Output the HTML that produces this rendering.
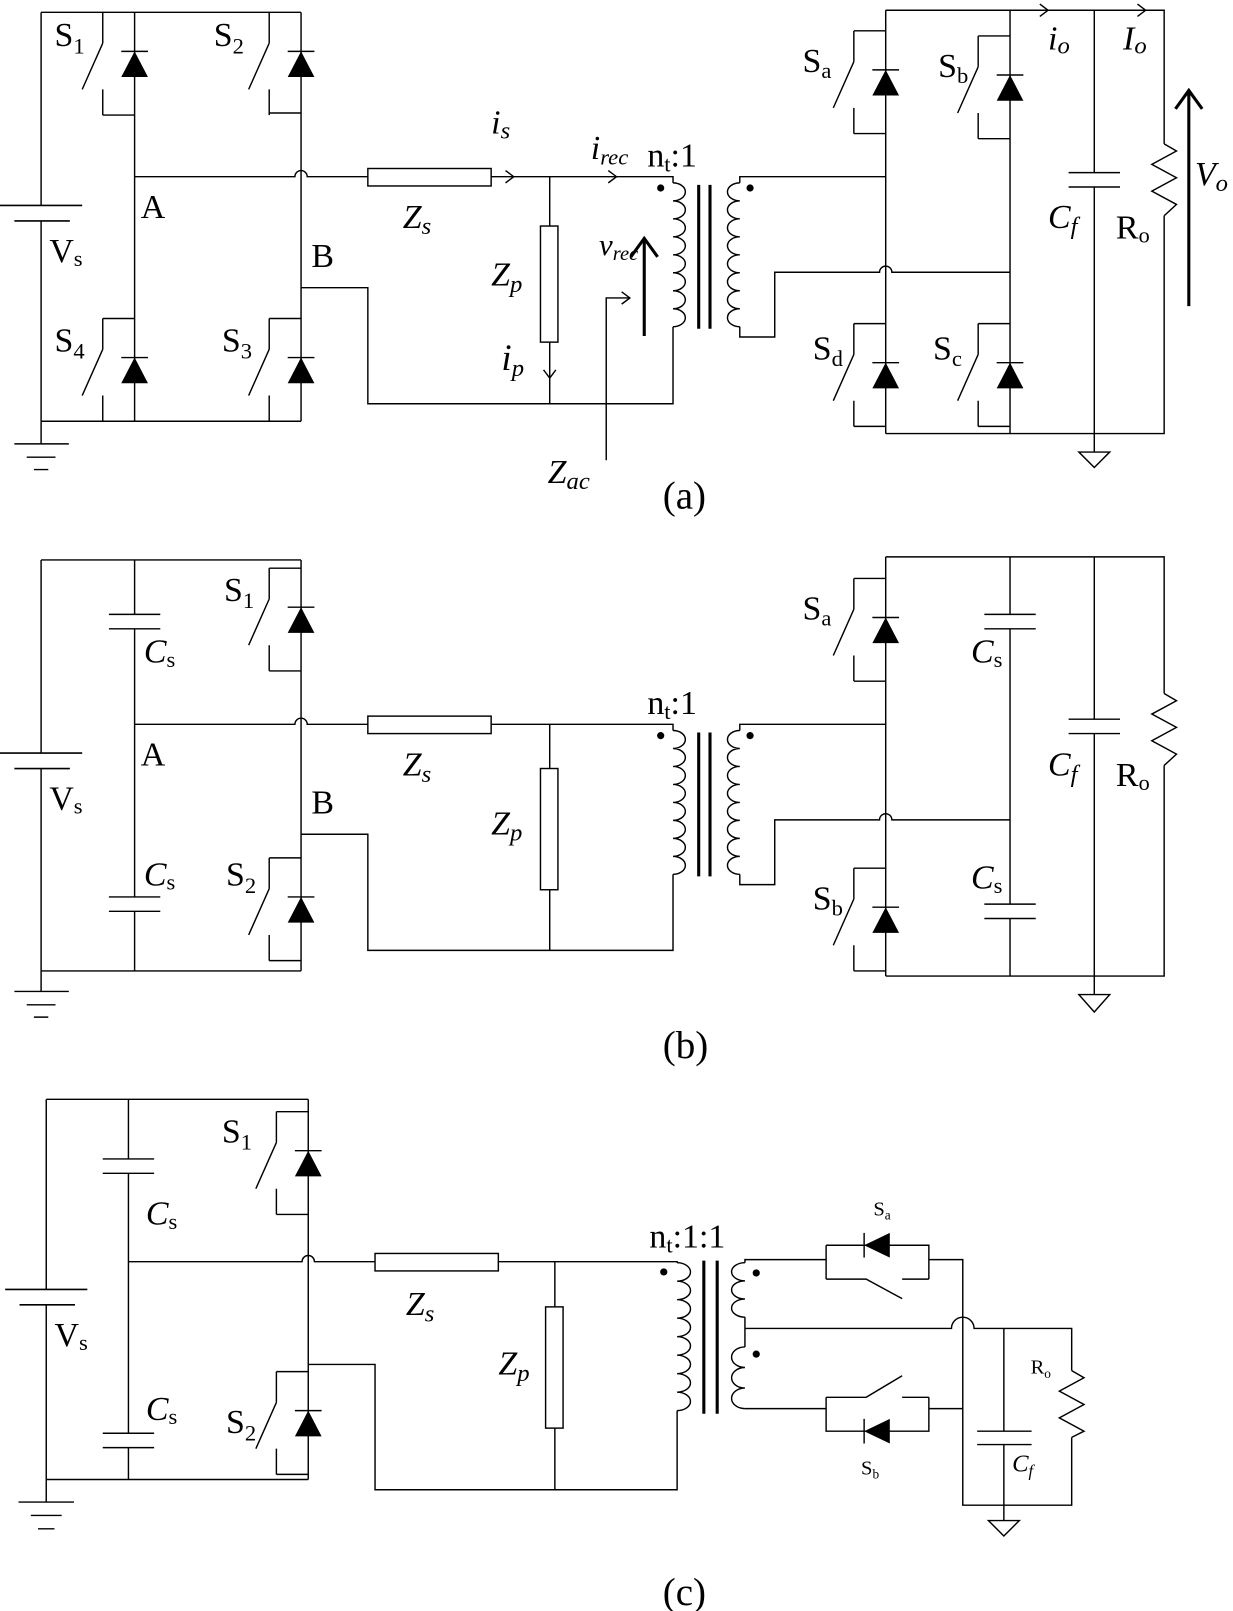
<!DOCTYPE html>
<html><head><meta charset="utf-8"><style>
html,body{margin:0;padding:0;background:#fff;}
svg{display:block;}
text{font-family:"Liberation Serif","Times New Roman",serif;fill:#000;}
.it{font-style:italic;}
</style></head><body>
<svg width="1233" height="1611" viewBox="0 0 1200 1568" preserveAspectRatio="none" xmlns="http://www.w3.org/2000/svg" font-family="Liberation Serif, serif">
<defs>
<g id="sw" fill="none" stroke="#000" stroke-width="1.4">
<path d="M-31 0 V30 M-31 30 L-51 75 M-31 75 V100"/>
<path d="M-13 38 H13"/>
<polygon points="0,38 -13,63 13,63" fill="#000" stroke="none"/>
</g>
<path id="hb" d="M-31 100 H0" fill="none" stroke="#000" stroke-width="1.4"/>
<path id="ht" d="M-31 0 H0" fill="none" stroke="#000" stroke-width="1.4"/>
</defs>
<g fill="none" stroke="#000" stroke-width="1.4">
<!-- ===== (a) ===== -->
<path d="M40 12 V200 M40 215 V410 M40 12 H293 M40 410 H293"/>
<path d="M0 200 H80 M14 215 H68" stroke-width="1.6"/>
<path d="M40 410 V432 M14 432 H67 M26 445 H54 M33 457 H47"/>
<path d="M131 12 V410 M293 12 V410"/>
<path d="M131 172 H287 a6 6 0 0 1 12 0 H358 M478 172 H655 V178"/>
<rect x="358" y="164" width="120" height="17"/>
<path d="M492 166 L500 172 L492 178 M592 166 L600 172 L592 178"/>
<path d="M535 172 V220 M535 333 V393"/>
<rect x="526" y="220" width="17" height="113"/>
<path d="M529 360 L535 368 L541 360"/>
<path d="M293 280 H358 V393 H655 V318"/>
<path d="M590 448 V290 H612 M605 284 L613 290 L605 296"/>
<path d="M627 327 V234 M614 250 L627 232 L640 250" stroke-width="3"/>
<path d="M655 178 a12 8.75 0 0 1 0 17.5 a12 8.75 0 0 1 0 17.5 a12 8.75 0 0 1 0 17.5 a12 8.75 0 0 1 0 17.5 a12 8.75 0 0 1 0 17.5 a12 8.75 0 0 1 0 17.5 a12 8.75 0 0 1 0 17.5 a12 8.75 0 0 1 0 17.5"/>
<path d="M680 180 V320 M691 180 V320" stroke-width="3"/>
<path d="M720 178 a12 8.75 0 0 0 0 17.5 a12 8.75 0 0 0 0 17.5 a12 8.75 0 0 0 0 17.5 a12 8.75 0 0 0 0 17.5 a12 8.75 0 0 0 0 17.5 a12 8.75 0 0 0 0 17.5 a12 8.75 0 0 0 0 17.5 a12 8.75 0 0 0 0 17.5"/>
<path d="M720 178 V172 H862 M720 318 V328 H754 V265 H856 a6 6 0 0 1 12 0 H983"/>
<path d="M862 10 V422 M983 10 V422 M862 10 H1133 V140 M862 422 H1133 V210"/>
<path d="M1133 140 L1145 147 L1121 160 L1145 173 L1121 186 L1145 199 L1133 210"/>
<path d="M1065 10 V168 M1065 182 V440 M1040 168 H1090 M1040 182 H1090"/>
<path d="M1050 440 H1080 L1065 455 Z"/>
<path d="M1012 4 L1020 10 L1012 16 M1107 4 L1115 10 L1107 16"/>
<path d="M1157 298 V90 M1144 106 L1157 88 L1170 106" stroke-width="3"/>
<!-- ===== (b) ===== -->
<path d="M40 545 V733 M40 748 V945 M40 545 H293 M40 945 H293"/>
<path d="M0 733 H80 M14 748 H68" stroke-width="1.6"/>
<path d="M40 945 V965 M14 965 H67 M26 978 H54 M33 990 H47"/>
<path d="M131 545 V598 M131 612 V873 M131 887 V945 M106 598 H156 M106 612 H156 M106 873 H156 M106 887 H156"/>
<path d="M293 545 V945"/>
<path d="M131 705 H287 a6 6 0 0 1 12 0 H358 M478 705 H655 V711"/>
<rect x="358" y="697" width="120" height="17"/>
<path d="M535 705 V748 M535 866 V925"/>
<rect x="526" y="748" width="17" height="118"/>
<path d="M293 812 H358 V925 H655 V851"/>
<g transform="translate(0,533)">
<path d="M655 178 a12 8.75 0 0 1 0 17.5 a12 8.75 0 0 1 0 17.5 a12 8.75 0 0 1 0 17.5 a12 8.75 0 0 1 0 17.5 a12 8.75 0 0 1 0 17.5 a12 8.75 0 0 1 0 17.5 a12 8.75 0 0 1 0 17.5 a12 8.75 0 0 1 0 17.5"/>
<path d="M680 180 V320 M691 180 V320" stroke-width="3"/>
<path d="M720 178 a12 8.75 0 0 0 0 17.5 a12 8.75 0 0 0 0 17.5 a12 8.75 0 0 0 0 17.5 a12 8.75 0 0 0 0 17.5 a12 8.75 0 0 0 0 17.5 a12 8.75 0 0 0 0 17.5 a12 8.75 0 0 0 0 17.5 a12 8.75 0 0 0 0 17.5"/>
<path d="M720 178 V172 H862 M720 318 V328 H754 V265 H856 a6 6 0 0 1 12 0 H983"/>
</g>
<path d="M862 542 V950 M862 542 H1133 V675 M862 950 H1133 V745"/>
<path d="M1133 675 L1145 682 L1121 695 L1145 708 L1121 721 L1145 734 L1133 745"/>
<path d="M983 542 V598 M983 612 V880 M983 894 V950 M958 598 H1008 M958 612 H1008 M958 880 H1008 M958 894 H1008"/>
<path d="M1065 542 V700 M1065 714 V968 M1040 700 H1090 M1040 714 H1090"/>
<path d="M1050 968 H1080 L1065 985 Z"/>
<!-- ===== (c) ===== -->
<path d="M45 1070 V1255 M45 1270 V1440 M45 1070 H300 M45 1440 H300"/>
<path d="M5 1255 H85 M19 1270 H73" stroke-width="1.6"/>
<path d="M45 1440 V1462 M18 1462 H72 M30 1475 H60 M37 1488 H53"/>
<path d="M125 1070 V1128 M125 1142 V1395 M125 1409 V1440 M100 1128 H150 M100 1142 H150 M100 1395 H150 M100 1409 H150"/>
<path d="M300 1070 V1440"/>
<path d="M125 1228 H294 a6 6 0 0 1 12 0 H365 M485 1228 H659 V1229"/>
<rect x="365" y="1220" width="120" height="17"/>
<path d="M540 1228 V1272 M540 1390 V1450"/>
<rect x="531" y="1272" width="17" height="118"/>
<path d="M300 1328 H365 V1450 H659 V1373"/>
<path d="M659 1229 a13 9 0 0 1 0 18 a13 9 0 0 1 0 18 a13 9 0 0 1 0 18 a13 9 0 0 1 0 18 a13 9 0 0 1 0 18 a13 9 0 0 1 0 18 a13 9 0 0 1 0 18 a13 9 0 0 1 0 18"/>
<path d="M685 1227 V1376 M698 1227 V1376" stroke-width="3"/>
<path d="M725 1229 a13 8.83 0 0 0 0 17.67 a13 8.83 0 0 0 0 17.67 a13 8.83 0 0 0 0 17.67"/>
<path d="M725 1311 a13 10 0 0 0 0 20 a13 10 0 0 0 0 20 a13 10 0 0 0 0 20"/>
<path d="M725 1229 V1226 H804 M725 1282 V1311 M725 1293 H926 a11 11 0 0 1 22 0 H1043 V1334 M725 1371 H804"/>
<path d="M804 1212 V1245 M804 1212 H904 V1245 M904 1226 H937 V1465 H1043 V1399 M804 1245 H843 L878 1264 M878 1245 H904"/>
<path d="M841 1200 V1224"/>
<path d="M804 1360 V1393 H904 V1360 M904 1371 H937 M804 1360 H843 L878 1339 M878 1360 H904"/>
<path d="M841 1381 V1405"/>
<path d="M1043 1334 L1055 1341 L1031 1354 L1055 1367 L1031 1380 L1055 1393 L1043 1399"/>
<path d="M977 1293 V1393 M977 1406 V1480 M951 1393 H1004 M951 1406 H1004"/>
<path d="M962 1480 H992 L977 1495 Z"/>
</g>
<g fill="#000">
<polygon points="841,1212 866,1200 866,1224"/>
<polygon points="841,1393 866,1381 866,1405"/>
<circle cx="643" cy="183" r="3.5"/><circle cx="730" cy="183" r="3.5"/>
<circle cx="643" cy="716" r="3.5"/><circle cx="730" cy="716" r="3.5"/>
<circle cx="646" cy="1238" r="3.5"/><circle cx="736" cy="1239" r="3.5"/><circle cx="736" cy="1318" r="3.5"/>
</g>
<!-- switches -->
<use href="#sw" transform="translate(131,12)"/><use href="#hb" transform="translate(131,12)"/>
<use href="#sw" transform="translate(293,12)"/><use href="#hb" transform="translate(293,10)"/>
<use href="#sw" transform="translate(131,310)"/><use href="#ht" transform="translate(131,310)"/>
<use href="#sw" transform="translate(293,310)"/><use href="#ht" transform="translate(293,310)"/>
<use href="#sw" transform="translate(862,30)"/><use href="#ht" transform="translate(862,30)"/><use href="#hb" transform="translate(862,30)"/>
<use href="#sw" transform="translate(983,35)"/><use href="#ht" transform="translate(983,35)"/><use href="#hb" transform="translate(983,35)"/>
<use href="#sw" transform="translate(862,315)"/><use href="#ht" transform="translate(862,315)"/><use href="#hb" transform="translate(862,315)"/>
<use href="#sw" transform="translate(983,315)"/><use href="#ht" transform="translate(983,315)"/><use href="#hb" transform="translate(983,315)"/>
<use href="#sw" transform="translate(293,553)"/><use href="#ht" transform="translate(293,553)"/><use href="#hb" transform="translate(293,553)"/>
<use href="#sw" transform="translate(293,835)"/><use href="#ht" transform="translate(293,835)"/><use href="#hb" transform="translate(293,835)"/>
<use href="#sw" transform="translate(862,563)"/><use href="#ht" transform="translate(862,563)"/><use href="#hb" transform="translate(862,563)"/>
<use href="#sw" transform="translate(862,845)"/><use href="#ht" transform="translate(862,845)"/><use href="#hb" transform="translate(862,845)"/>
<use href="#sw" transform="translate(300,1082)"/><use href="#ht" transform="translate(300,1082)"/><use href="#hb" transform="translate(300,1082)"/>
<use href="#sw" transform="translate(300,1335)"/><use href="#ht" transform="translate(300,1335)"/><use href="#hb" transform="translate(300,1335)"/>
<!-- labels (a) -->
<g font-size="33">
<text x="53" y="45">S<tspan font-size="22" dy="7">1</tspan></text>
<text x="208" y="45">S<tspan font-size="22" dy="7">2</tspan></text>
<text x="53" y="342">S<tspan font-size="22" dy="7">4</tspan></text>
<text x="216" y="342">S<tspan font-size="22" dy="7">3</tspan></text>
<text x="137" y="212">A</text>
<text x="303" y="260">B</text>
<text x="48" y="255">V<tspan font-size="22" dy="4">s</tspan></text>
<text x="781" y="70">S<tspan font-size="22" dy="6">a</tspan></text>
<text x="913" y="75">S<tspan font-size="22" dy="6">b</tspan></text>
<text x="791" y="350">S<tspan font-size="22" dy="6">d</tspan></text>
<text x="908" y="350">S<tspan font-size="22" dy="6">c</tspan></text>
<text x="1020" y="48" class="it">i<tspan font-size="24" dy="4">o</tspan></text>
<text x="1093" y="48" class="it">I<tspan font-size="24" dy="4">o</tspan></text>
<text x="1020" y="222" class="it">C<tspan font-size="24" dy="6">f</tspan></text>
<text x="1086" y="232">R<tspan font-size="22" dy="4">o</tspan></text>
<text x="1163" y="180" class="it">V<tspan font-size="24" dy="6">o</tspan></text>
<text x="478" y="130" class="it">i<tspan font-size="24" dy="5">s</tspan></text>
<text x="575" y="155" class="it">i<tspan font-size="22" dy="5">rec</tspan></text>
<text x="630" y="162">n<tspan font-size="22" dy="5">t</tspan><tspan dy="-5">:1</tspan></text>
<text x="392" y="222" class="it">Z<tspan font-size="24" dy="6">s</tspan></text>
<text x="478" y="278" class="it">Z<tspan font-size="24" dy="6">p</tspan></text>
<text x="583" y="248" class="it" font-size="30">v<tspan font-size="20" dy="5">rec</tspan></text>
<text x="488" y="360" class="it" font-size="36">i<tspan font-size="24" dy="6">p</tspan></text>
<text x="533" y="470" class="it">Z<tspan font-size="24" dy="6">ac</tspan></text>
<text x="645" y="495" font-size="38">(a)</text>
<!-- (b) -->
<text x="218" y="585">S<tspan font-size="22" dy="7">1</tspan></text>
<text x="220" y="862">S<tspan font-size="22" dy="7">2</tspan></text>
<text x="137" y="745">A</text>
<text x="303" y="792">B</text>
<text x="48" y="788">V<tspan font-size="22" dy="4">s</tspan></text>
<text x="140" y="645" class="it">C<tspan font-size="22" dy="4" font-style="normal">s</tspan></text>
<text x="140" y="862" class="it">C<tspan font-size="22" dy="4" font-style="normal">s</tspan></text>
<text x="392" y="755" class="it">Z<tspan font-size="24" dy="6">s</tspan></text>
<text x="478" y="812" class="it">Z<tspan font-size="24" dy="6">p</tspan></text>
<text x="630" y="695">n<tspan font-size="22" dy="5">t</tspan><tspan dy="-5">:1</tspan></text>
<text x="781" y="603">S<tspan font-size="22" dy="6">a</tspan></text>
<text x="791" y="885">S<tspan font-size="22" dy="6">b</tspan></text>
<text x="945" y="645" class="it">C<tspan font-size="22" dy="4" font-style="normal">s</tspan></text>
<text x="945" y="865" class="it">C<tspan font-size="22" dy="4" font-style="normal">s</tspan></text>
<text x="1020" y="755" class="it">C<tspan font-size="24" dy="6">f</tspan></text>
<text x="1086" y="765">R<tspan font-size="22" dy="4">o</tspan></text>
<text x="645" y="1030" font-size="38">(b)</text>
<!-- (c) -->
<text x="216" y="1112">S<tspan font-size="22" dy="7">1</tspan></text>
<text x="220" y="1395">S<tspan font-size="22" dy="7">2</tspan></text>
<text x="53" y="1310">V<tspan font-size="22" dy="4">s</tspan></text>
<text x="142" y="1192" class="it">C<tspan font-size="22" dy="4" font-style="normal">s</tspan></text>
<text x="142" y="1382" class="it">C<tspan font-size="22" dy="4" font-style="normal">s</tspan></text>
<text x="395" y="1280" class="it">Z<tspan font-size="24" dy="6">s</tspan></text>
<text x="485" y="1338" class="it">Z<tspan font-size="24" dy="6">p</tspan></text>
<text x="632" y="1214">n<tspan font-size="22" dy="5">t</tspan><tspan dy="-5">:1:1</tspan></text>
<text x="645" y="1562" font-size="38">(c)</text>
</g>
<g font-size="20">
<text x="850" y="1183">S<tspan font-size="13" dy="4">a</tspan></text>
<text x="838" y="1435">S<tspan font-size="13" dy="4">b</tspan></text>
<text x="1003" y="1337">R<tspan font-size="13" dy="4">o</tspan></text>
<text x="985" y="1432" class="it" font-size="24">C<tspan font-size="16" dy="5">f</tspan></text>
</g>
</svg>
</body></html>
